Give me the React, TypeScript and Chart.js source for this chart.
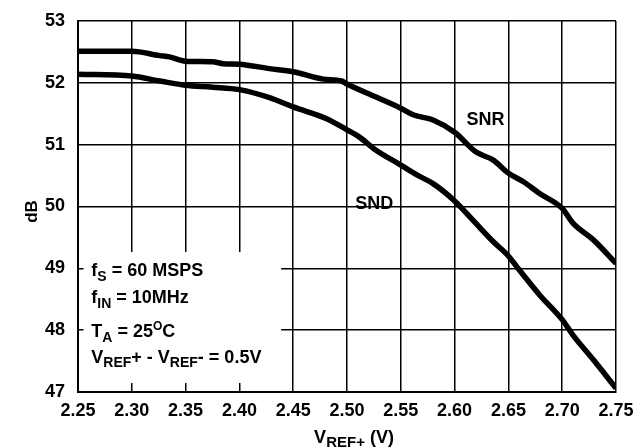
import React, { useEffect, useRef } from 'react';
import { Chart, registerables } from 'chart.js';

Chart.register(...registerables);

const FONT = '"Liberation Sans", Arial, Helvetica, sans-serif';

const xTickValues = [2.25, 2.3, 2.35, 2.4, 2.45, 2.5, 2.55, 2.6, 2.65, 2.7, 2.75];
const yTickValues = [47, 48, 49, 50, 51, 52, 53];

const snrX = [2.25, 2.3, 2.326, 2.335, 2.35, 2.375, 2.385, 2.4, 2.428, 2.45, 2.478, 2.495, 2.5, 2.527, 2.55, 2.562, 2.58, 2.6, 2.62, 2.636, 2.65, 2.664, 2.679, 2.7, 2.71, 2.729, 2.75];
const snrY = [52.51, 52.51, 52.44, 52.42, 52.35, 52.34, 52.31, 52.3, 52.23, 52.18, 52.06, 52.03, 51.98, 51.77, 51.59, 51.48, 51.4, 51.2, 50.88, 50.75, 50.54, 50.4, 50.21, 49.97, 49.73, 49.46, 49.08];

const sndX = [2.25, 2.3, 2.326, 2.35, 2.375, 2.4, 2.428, 2.45, 2.481, 2.5, 2.511, 2.527, 2.55, 2.565, 2.58, 2.6, 2.617, 2.636, 2.65, 2.658, 2.679, 2.7, 2.71, 2.729, 2.75];
const sndY = [52.14, 52.11, 52.03, 51.96, 51.93, 51.89, 51.76, 51.61, 51.42, 51.24, 51.13, 50.91, 50.67, 50.51, 50.37, 50.09, 49.78, 49.43, 49.2, 49.02, 48.57, 48.17, 47.92, 47.52, 47.06];

type Seg = { t: string; s: number; dy: number };

const xTitle: Seg[] = [
  { t: 'V', s: 18, dy: 0 },
  { t: 'REF+', s: 15, dy: 4 },
  { t: ' (V)', s: 18, dy: 0 },
];
const yTitle = 'dB';

// curve labels: [text, x value, baseline y value]
const curveLabels: [string, number, number][] = [
  ['SNR', 2.611, 51.32],
  ['SND', 2.5076, 49.96],
];

// annotation box extents in data units
const boxX = [2.2551, 2.4388];
const boxY = [47.145, 49.265];
const noteX = 2.2624;
const noteLines: { y: number; segs: Seg[] }[] = [
  { y: 48.877, segs: [{ t: 'f', s: 18, dy: 0 }, { t: 'S', s: 14, dy: 5 }, { t: ' = 60 MSPS', s: 18, dy: 0 }] },
  { y: 48.446, segs: [{ t: 'f', s: 18, dy: 0 }, { t: 'IN', s: 14, dy: 5 }, { t: ' = 10MHz', s: 18, dy: 0 }] },
  { y: 47.888, segs: [{ t: 'T', s: 18, dy: 0 }, { t: 'A', s: 14, dy: 5 }, { t: ' = 25', s: 18, dy: 0 }, { t: 'O', s: 12, dy: -7 }, { t: 'C', s: 18, dy: 0 }] },
  { y: 47.468, segs: [{ t: 'V', s: 18, dy: 0 }, { t: 'REF', s: 14, dy: 4 }, { t: '+ - V', s: 18, dy: 0 }, { t: 'REF', s: 14, dy: 4 }, { t: '- = 0.5V', s: 18, dy: 0 }] },
];

function segWidth(ctx: CanvasRenderingContext2D, segs: Seg[]) {
  let w = 0;
  for (const sg of segs) {
    ctx.font = `bold ${sg.s}px ${FONT}`;
    w += ctx.measureText(sg.t).width;
  }
  return w;
}

function drawSegs(ctx: CanvasRenderingContext2D, segs: Seg[], x: number, y: number) {
  let cx = x;
  ctx.textBaseline = 'alphabetic';
  ctx.textAlign = 'left';
  for (const sg of segs) {
    ctx.font = `bold ${sg.s}px ${FONT}`;
    ctx.fillText(sg.t, cx, y + sg.dy);
    cx += ctx.measureText(sg.t).width;
  }
}

const overlay = {
  id: 'overlay',
  beforeDatasetsDraw(chart: any) {
    const { ctx, scales } = chart;
    const xs = scales.x;
    const ys = scales.y;
    const l = xs.getPixelForValue(boxX[0]);
    const r = xs.getPixelForValue(boxX[1]);
    const t = ys.getPixelForValue(boxY[1]);
    const b = ys.getPixelForValue(boxY[0]);
    ctx.save();
    ctx.fillStyle = '#ffffff';
    ctx.fillRect(l, t, r - l, b - t);
    ctx.restore();
  },
  afterDraw(chart: any) {
    const { ctx, scales, chartArea } = chart;
    const xs = scales.x;
    const ys = scales.y;
    ctx.save();
    ctx.fillStyle = '#000';
    const nx = xs.getPixelForValue(noteX);
    for (const line of noteLines) {
      drawSegs(ctx, line.segs, nx, ys.getPixelForValue(line.y));
    }
    for (const [txt, vx, vy] of curveLabels) {
      drawSegs(ctx, [{ t: txt, s: 18, dy: 0 }], xs.getPixelForValue(vx), ys.getPixelForValue(vy));
    }
    const w = segWidth(ctx, xTitle);
    const cx = (chartArea.left + chartArea.right) / 2 + 7;
    drawSegs(ctx, xTitle, cx - w / 2, 443);
    ctx.translate(32, (chartArea.top + chartArea.bottom) / 2 + 5);
    ctx.rotate(-Math.PI / 2);
    ctx.font = `bold 17px ${FONT}`;
    ctx.textAlign = 'center';
    ctx.textBaseline = 'middle';
    ctx.fillText(yTitle, 0, 0);
    ctx.restore();
  },
};

export default function App() {
  const ref = useRef<HTMLCanvasElement>(null);
  useEffect(() => {
    if (!ref.current) return;
    const chart = new Chart(ref.current, {
      type: 'line',
      data: {
        datasets: [
          {
            label: 'SNR',
            data: snrX.map((x, i) => ({ x, y: snrY[i] })),
            borderColor: '#000',
            borderWidth: 5.5,
            pointRadius: 0,
            cubicInterpolationMode: 'monotone',
            fill: false,
          },
          {
            label: 'SND',
            data: sndX.map((x, i) => ({ x, y: sndY[i] })),
            borderColor: '#000',
            borderWidth: 5.5,
            pointRadius: 0,
            cubicInterpolationMode: 'monotone',
            fill: false,
          },
        ],
      },
      options: {
        animation: false,
        responsive: false,
        maintainAspectRatio: false,
        layout: { padding: { top: 21, right: 21, left: 0, bottom: 0 } },
        plugins: { legend: { display: false }, tooltip: { enabled: false }, title: { display: false } },
        scales: {
          x: {
            type: 'linear',
            min: 2.25,
            max: 2.75,
            afterBuildTicks: (s: any) => {
              s.ticks = xTickValues.map((v) => ({ value: v }));
            },
            afterFit: (s: any) => {
              s.height = 56;
              s.paddingLeft = 0;
              s.paddingRight = 0;
            },
            ticks: {
              color: '#000',
              font: { family: FONT, size: 18, weight: 'bold' },
              padding: 8,
              maxRotation: 0,
              autoSkip: false,
              callback: (v: any) => Number(v).toFixed(2),
            },
            grid: { color: '#000', lineWidth: 1.5, drawTicks: false },
            border: { color: '#000', width: 2 },
          },
          y: {
            type: 'linear',
            min: 47,
            max: 53,
            afterBuildTicks: (s: any) => {
              s.ticks = yTickValues.map((v) => ({ value: v }));
            },
            afterFit: (s: any) => {
              s.width = 78;
              s.paddingTop = 0;
              s.paddingBottom = 0;
            },
            ticks: {
              color: '#000',
              font: { family: FONT, size: 18, weight: 'bold' },
              padding: 13,
              autoSkip: false,
              callback: (v: any) => String(v),
            },
            grid: { color: '#000', lineWidth: 1.5, drawTicks: false },
            border: { color: '#000', width: 2 },
          },
        },
      },
      plugins: [overlay],
    } as any);
    return () => chart.destroy();
  }, []);
  return (
    <div style={{ position: 'fixed', left: 0, top: 0, width: 637, height: 448, background: '#fff' }}>
      <canvas ref={ref} width={637} height={448} style={{ width: 637, height: 448, display: 'block' }} />
    </div>
  );
}
